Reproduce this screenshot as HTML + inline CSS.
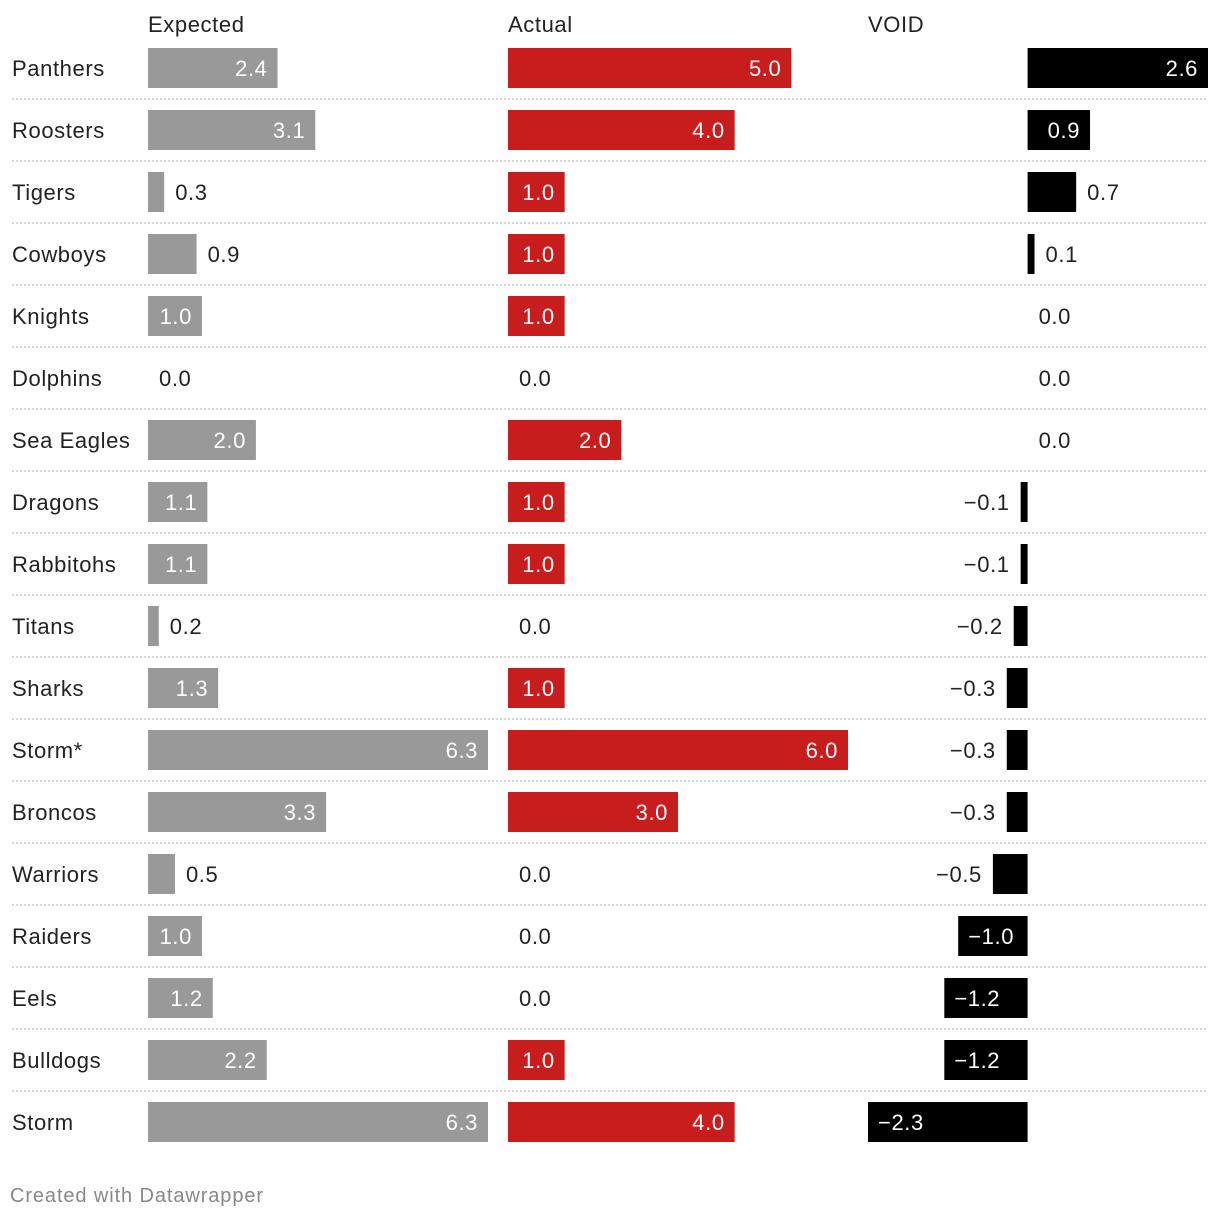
<!DOCTYPE html>
<html><head><meta charset="utf-8"><style>
html,body{margin:0;padding:0;background:#fff;}
svg{display:block;font-family:"Liberation Sans",sans-serif;}
svg text{letter-spacing:0.6px;}
</style></head><body>
<svg id="chart" width="1220" height="1218">
<text x="148" y="32" font-size="22" fill="#222">Expected</text>
<text x="508" y="32" font-size="22" fill="#222">Actual</text>
<text x="868" y="32" font-size="22" fill="#222">VOID</text>
<text x="10" y="1202" font-size="20" fill="#888" style="letter-spacing:0.9px">Created with Datawrapper</text>
</svg>
<script>
const teams=["Panthers","Roosters","Tigers","Cowboys","Knights","Dolphins","Sea Eagles","Dragons","Rabbitohs","Titans","Sharks","Storm*","Broncos","Warriors","Raiders","Eels","Bulldogs","Storm"];
const expected=[2.4,3.1,0.3,0.9,1.0,0.0,2.0,1.1,1.1,0.2,1.3,6.3,3.3,0.5,1.0,1.2,2.2,6.3];
const actual=[5.0,4.0,1.0,1.0,1.0,0.0,2.0,1.0,1.0,0.0,1.0,6.0,3.0,0.0,0.0,0.0,1.0,4.0];
const voidVals=[2.6,0.9,0.7,0.1,0.0,0.0,0.0,-0.1,-0.1,-0.2,-0.3,-0.3,-0.3,-0.5,-1.0,-1.2,-1.2,-2.3];
const svg=document.getElementById('chart');
const NS="http://www.w3.org/2000/svg";
function mk(t,a){const e=document.createElementNS(NS,t);for(const k in a)e.setAttribute(k,a[k]);svg.appendChild(e);return e;}
const rowY=i=>68+62*i;
const W=340;
const maxE=Math.max(...expected),maxA=Math.max(...actual);
const vMin=Math.min(...voidVals),vMax=Math.max(...voidVals);
const xE=v=>148+v/maxE*W;
const xA=v=>508+v/maxA*W;
const xV=v=>868+(v-vMin)/(vMax-vMin)*W;
function fmt(v){return (v<0?"\u2212":"")+Math.abs(v).toFixed(1);}
function bar(x0,x1,cy,v,color,name){
  const l=Math.min(x0,x1),w=Math.abs(x1-x0);
  if(w>0){const r=mk('rect',{x:l,y:cy-20,width:w,height:40,fill:color});
    
    }
  let t;
  if(w>=50){
    if(v>=0)t=mk('text',{x:l+w-10,y:cy+8,'text-anchor':'end',fill:'#fff','font-size':22});
    else t=mk('text',{x:l+10,y:cy+8,'text-anchor':'start',fill:'#fff','font-size':22});
  }else{
    if(v>=0)t=mk('text',{x:x0+(w)+11,y:cy+8,'text-anchor':'start',fill:'#222','font-size':22});
    else t=mk('text',{x:l-11,y:cy+8,'text-anchor':'end',fill:'#222','font-size':22});
  }
  t.textContent=fmt(v);
  
  
}
teams.forEach((tm,i)=>{
  const cy=rowY(i);
  const lab=mk('text',{x:12,y:cy+8,'font-size':22,fill:'#222'});lab.textContent=tm;
  
  
  if(i<teams.length-1){const ln=mk('line',{x1:12,x2:1208,y1:cy+31,y2:cy+31,stroke:'#c8c8c8','stroke-width':1.5,'stroke-dasharray':'2,2'});
    
    }
  bar(xE(0),xE(expected[i]),cy,expected[i],'#999999','expected');
  bar(xA(0),xA(actual[i]),cy,actual[i],'#c71e1d','actual');
  bar(xV(0),xV(voidVals[i]),cy,voidVals[i],'#000000','void');
});
</script>
</body></html>
